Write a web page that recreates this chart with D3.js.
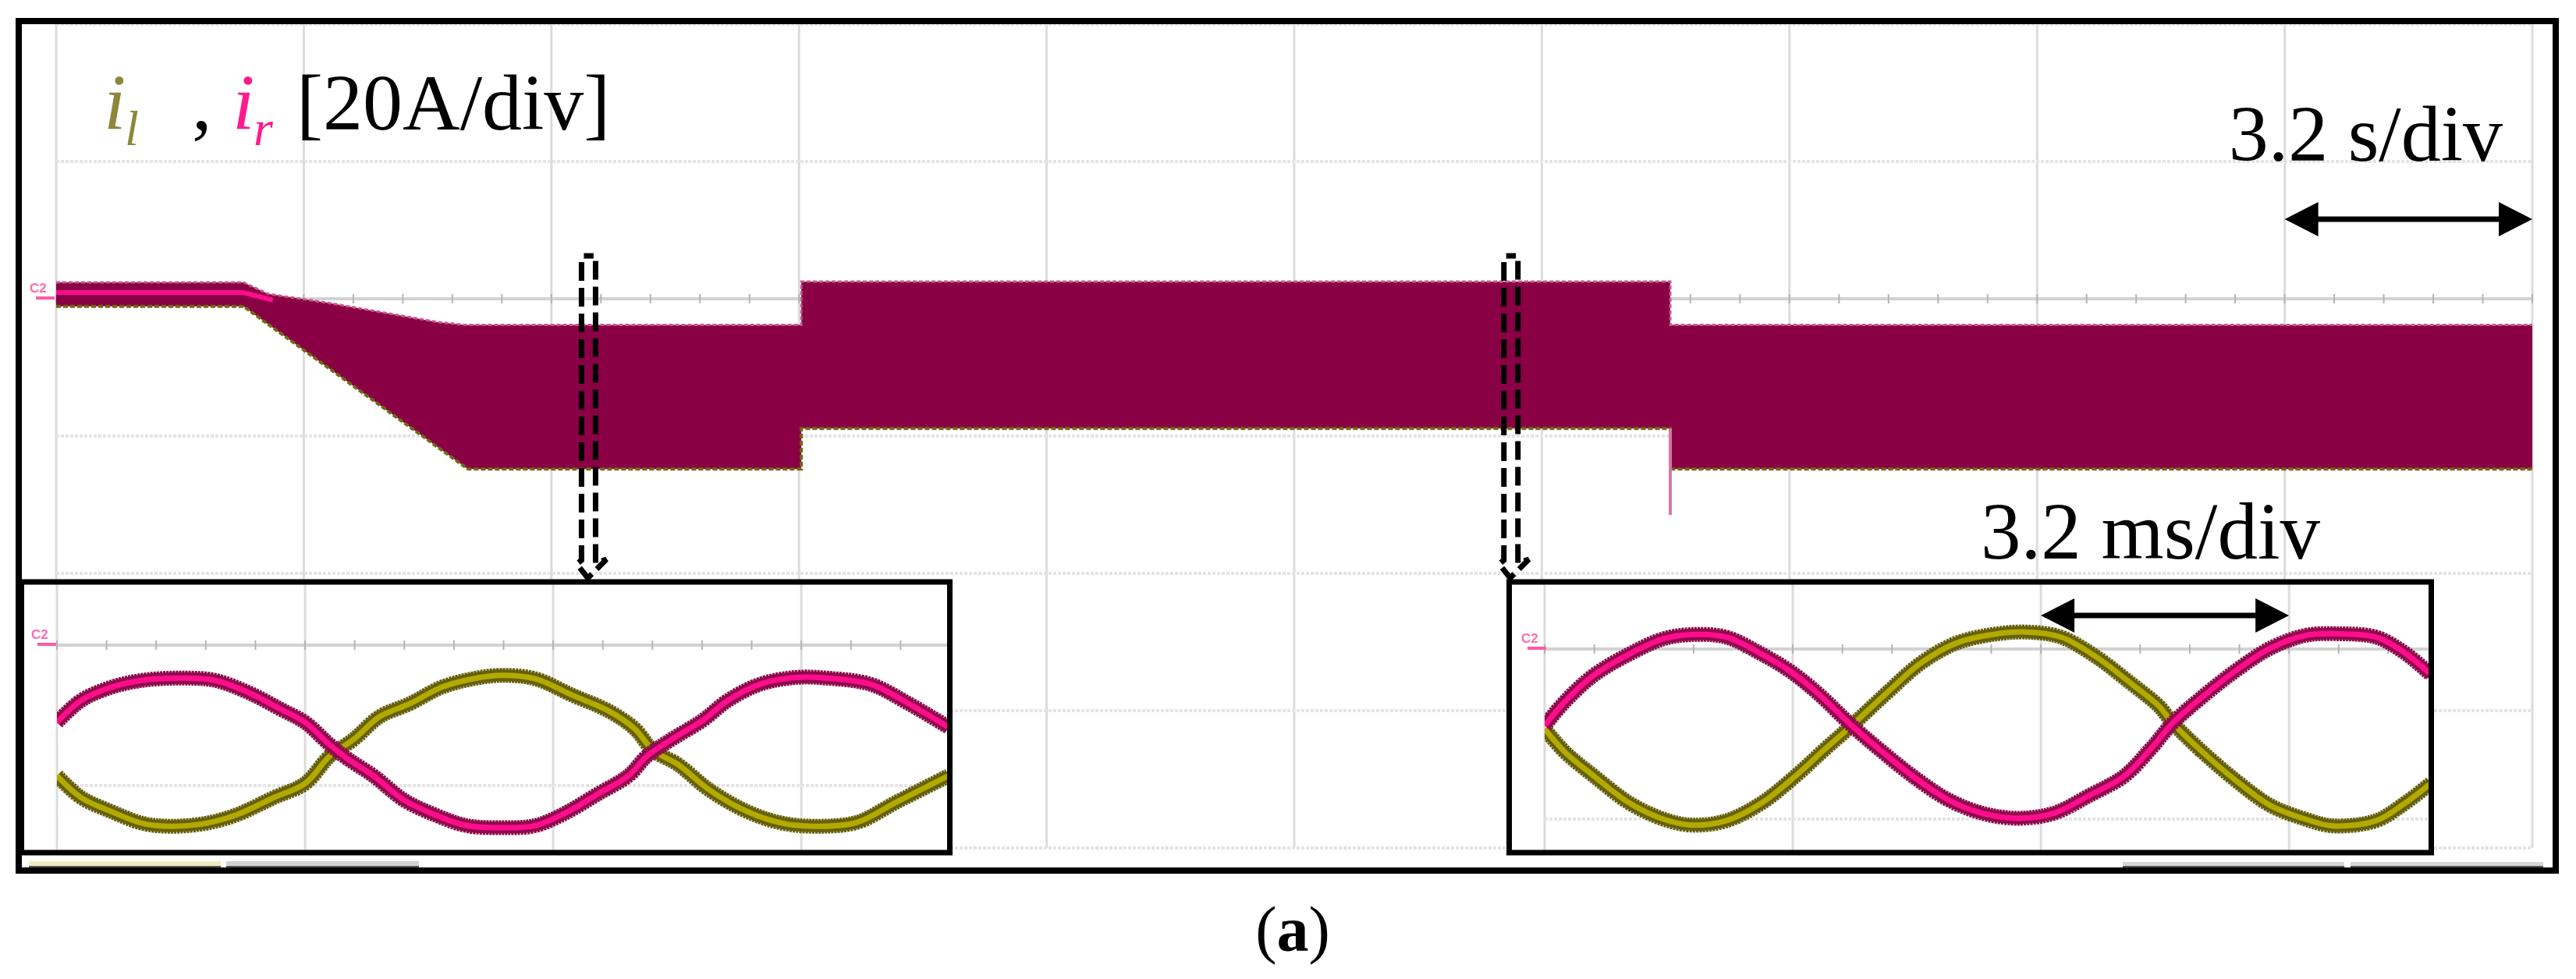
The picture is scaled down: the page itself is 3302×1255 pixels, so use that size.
<!DOCTYPE html>
<html>
<head>
<meta charset="utf-8">
<title>scope capture</title>
<style>
  body { margin: 0; background: #fff; }
  svg { display: block; }
  .lbl { font-family: "Liberation Serif", "Times New Roman", serif; fill: #000; }
</style>
<script src="https://d3js.org/d3.v7.min.js"></script>
</head>
<body>
<script>
// main record: time in s (3.2 s/div), current in A (20 A/div), C2 ground = 0 A
var envUpperT = [0, 2.42, 2.74, 3.52, 4.93, 5.28, 9.63, 9.63, 20.86, 20.86, 32];
var envUpperA = [2.4, 2.4, 0.7, -0.6, -3.4, -3.8, -3.8, 2.5, 2.5, -3.8, -3.8];
var envLowerT = [0, 2.42, 5.32, 9.63, 9.63, 20.86, 20.86, 32];
var envLowerA = [-1.1, -1.1, -24.8, -24.8, -18.9, -18.9, -24.8, -24.8];
var refT = [0, 2.42, 2.8];
var refA = [0.9, 0.9, -0.2];
var spikeT = 20.86, spikeA = [-18.9, -31.5];
var zoomT = [6.88, 18.8];          // where the two zoomed captures were taken

// zoom 1 (after the ramp): time in ms (3.2 ms/div), current in A
var z1T = [0, 0.31, 0.70, 1.11, 1.59, 2.03, 2.48, 2.88, 3.20, 3.52, 3.75, 4.08, 4.48, 4.88, 5.28,
           5.73, 6.17, 6.56, 6.96, 7.37, 7.61, 7.93, 8.33, 8.65, 9.06, 9.53, 9.93, 10.50, 10.98, 11.50];
var z1Ir = [-11.0, -7.9, -6.0, -5.0, -4.7, -5.0, -6.8, -9.1, -11.0, -14.2, -16.2, -18.6, -22.1, -24.2, -25.7,
            -26.0, -25.7, -23.9, -21.3, -18.6, -15.8, -13.4, -10.7, -7.9, -5.6, -4.6, -4.7, -5.6, -8.3, -11.7];
var z1TL = [0, 0.31, 0.70, 1.11, 1.47, 1.91, 2.31, 2.80, 3.20, 3.52, 3.83, 4.16, 4.56, 4.96, 5.36,
            5.73, 6.17, 6.64, 7.12, 7.45, 7.69, 8.01, 8.41, 8.90, 9.37, 9.85, 10.33, 10.82, 11.50];
var z1Il = [-18.6, -21.7, -23.7, -25.4, -25.8, -25.4, -24.2, -21.7, -19.7, -15.8, -13.4, -10.2, -8.3, -6.0, -4.8,
            -4.3, -4.8, -7.1, -9.4, -11.9, -15.0, -17.0, -20.6, -23.7, -25.4, -25.8, -25.2, -22.4, -18.6];

// zoom 2 (after the second step)
var z2T = [0, 0.27, 0.63, 1.09, 1.53, 1.89, 2.34, 2.80, 3.15, 3.51, 3.96, 4.33, 4.77, 5.22, 5.68,
           6.12, 6.57, 7.03, 7.48, 7.83, 8.10, 8.46, 8.92, 9.36, 9.81, 10.21, 10.72, 11.07, 11.43];
var z2Ir = [-9.0, -6.1, -3.1, -0.6, 1.2, 1.7, 1.4, -0.6, -2.5, -5.1, -9.0, -11.9, -15.1, -17.8, -19.4,
            -19.9, -19.3, -17.2, -14.9, -11.6, -8.7, -5.8, -2.5, 0.1, 1.6, 1.8, 1.4, -0.3, -3.0];
var z2TL = [0, 0.27, 0.63, 1.09, 1.53, 1.89, 2.34, 2.80, 3.24, 3.60, 3.96, 4.42, 4.86, 5.31, 5.77,
            6.21, 6.66, 7.11, 7.57, 7.92, 8.10, 8.46, 8.92, 9.36, 9.81, 10.17, 10.72, 11.07, 11.43];
var z2Il = [-9.4, -12.2, -14.9, -18.1, -20.0, -20.7, -20.2, -18.1, -14.9, -11.9, -9.0, -5.1, -1.6, 0.7, 1.7,
            2.0, 1.4, -0.9, -4.1, -6.7, -8.7, -11.9, -15.5, -18.4, -20.0, -20.8, -20.2, -18.3, -15.8];

var W = 3302, H = 1255;
var pinkDark = "#8e0a4c", pinkBright = "#ff0d8c";
var oliveDark = "#66600a", oliveBright = "#b3aa00";
var envFill = "#8a0044";
var font = '"Liberation Serif", "Times New Roman", serif';

var svg = d3.select("body").append("svg")
    .attr("width", W)
    .attr("height", H);
svg.append("rect").attr("width", W).attr("height", H).attr("fill", "#fff");

var x = d3.scaleLinear().domain([0, 32]).range([72, 3246]);
var y = d3.scaleLinear().domain([-80, 40]).range([1087, 31]);

// ---- main graticule
var grid = svg.append("g");
grid.selectAll(".vg")
    .data(d3.range(0, 32.01, 3.2))
    .enter().append("line")
    .attr("x1", d => x(d)).attr("x2", d => x(d))
    .attr("y1", y(40)).attr("y2", y(-80))
    .attr("stroke", "#dcdcdc").attr("stroke-width", 3);
grid.selectAll(".hg")
    .data(d3.range(-80, 40.01, 20))
    .enter().append("line")
    .attr("x1", x(0)).attr("x2", x(32))
    .attr("y1", d => y(d)).attr("y2", d => y(d))
    .attr("stroke", d => d === 0 ? "#d2d2d2" : "#e4e4e4")
    .attr("stroke-width", 4)
    .attr("stroke-dasharray", d => d === 0 ? null : "4,2");
grid.selectAll(".tk")
    .data(d3.range(0, 32.01, 0.64))
    .enter().append("line")
    .attr("x1", d => x(d)).attr("x2", d => x(d))
    .attr("y1", y(0) - 6).attr("y2", y(0) + 6)
    .attr("stroke", "#b4b4b4").attr("stroke-width", 2);

function c2Marker(g, x0, yBase) {
    g.append("text").attr("x", x0).attr("y", yBase - 8)
        .attr("font-family", "Liberation Sans, Arial, sans-serif")
        .attr("font-size", 17).attr("font-weight", "bold")
        .attr("fill", "#ff6fb0").text("C2");
    g.append("line").attr("x1", x0 + 8).attr("x2", x0 + 32)
        .attr("y1", yBase - 1).attr("y2", yBase - 1)
        .attr("stroke", "#ff5aa5").attr("stroke-width", 4);
}
c2Marker(svg, 38, y(0));

// ---- main trace envelope
var ptLine = d3.line().x(d => x(d[0])).y(d => y(d[1]));
var upper = envUpperT.map((t, i) => [t, envUpperA[i]]);
var lower = envLowerT.map((t, i) => [t, envLowerA[i]]);
svg.append("path")
    .attr("d", ptLine(upper.concat(lower.slice().reverse())) + "Z")
    .attr("fill", envFill);
svg.append("path").attr("d", ptLine(upper))
    .attr("fill", "none").attr("stroke", "#c8578f").attr("stroke-width", 3)
    .attr("stroke-dasharray", "5,3");
svg.append("path").attr("d", ptLine(lower))
    .attr("fill", "none").attr("stroke", "#6f6a12").attr("stroke-width", 4)
    .attr("stroke-dasharray", "6,3");
svg.append("path").attr("d", ptLine(refT.map((t, i) => [t, refA[i]])))
    .attr("fill", "none").attr("stroke", pinkBright).attr("stroke-width", 6);
svg.append("line")
    .attr("x1", x(spikeT)).attr("x2", x(spikeT))
    .attr("y1", y(spikeA[0])).attr("y2", y(spikeA[1]))
    .attr("stroke", "#d37aa6").attr("stroke-width", 4);

// ---- dashed hollow arrows pointing at the zoomed captures
zoomT.forEach(function(t) {
    var cx = x(t);
    var p = d3.path();
    p.moveTo(cx - 9, 336);
    p.lineTo(cx - 9, 718);
    p.lineTo(cx - 15, 723);
    p.lineTo(cx - 1, 741);
    p.lineTo(cx + 23, 717);
    p.lineTo(cx + 9, 722);
    p.lineTo(cx + 9, 328);
    p.lineTo(cx - 6, 328);
    svg.append("path").attr("d", p.toString())
        .attr("fill", "none").attr("stroke", "#000")
        .attr("stroke-width", 7).attr("stroke-dasharray", "24,9");
});

// ---- status bars under the graticule
svg.append("rect").attr("x", 37).attr("y", 1104).attr("width", 246).attr("height", 8).attr("fill", "#eeecbf");
svg.append("rect").attr("x", 37).attr("y", 1110).attr("width", 246).attr("height", 3).attr("fill", "#555");
svg.append("rect").attr("x", 290).attr("y", 1104).attr("width", 247).attr("height", 8).attr("fill", "#cfd3d3");
svg.append("rect").attr("x", 290).attr("y", 1110).attr("width", 247).attr("height", 3).attr("fill", "#555");
svg.append("rect").attr("x", 2721).attr("y", 1105).attr("width", 284).attr("height", 8).attr("fill", "#d6d6d6");
svg.append("rect").attr("x", 2721).attr("y", 1110).attr("width", 284).attr("height", 3).attr("fill", "#555");
svg.append("rect").attr("x", 3013).attr("y", 1105).attr("width", 247).attr("height", 8).attr("fill", "#d6d6d6");
svg.append("rect").attr("x", 3013).attr("y", 1110).attr("width", 247).attr("height", 3).attr("fill", "#555");

// ---- zoomed captures
function inset(box, tMax, aMin, gridTop, T1, I1, T2, I2, id) {
    var g = svg.append("g");
    g.append("rect").attr("x", box.x).attr("y", box.y)
        .attr("width", box.w).attr("height", box.h).attr("fill", "#fff");
    var sx = d3.scaleLinear().domain([0, tMax]).range([box.px0, box.px1]);
    var sy = d3.scaleLinear().domain([aMin, 0]).range([box.py0, box.py1]);
    g.selectAll(".v").data(d3.range(0, tMax, 3.2)).enter().append("line")
        .attr("x1", d => sx(d)).attr("x2", d => sx(d))
        .attr("y1", box.y).attr("y2", box.y + box.h)
        .attr("stroke", "#dcdcdc").attr("stroke-width", 3);
    g.selectAll(".h").data([0, -20]).enter().append("line")
        .attr("x1", sx(0)).attr("x2", box.x + box.w)
        .attr("y1", d => sy(d)).attr("y2", d => sy(d))
        .attr("stroke", d => d === 0 ? "#d2d2d2" : "#e4e4e4")
        .attr("stroke-width", 4)
        .attr("stroke-dasharray", d => d === 0 ? null : "4,2");
    g.selectAll(".t").data(d3.range(0, tMax, 0.64)).enter().append("line")
        .attr("x1", d => sx(d)).attr("x2", d => sx(d))
        .attr("y1", sy(0) - 6).attr("y2", sy(0) + 6)
        .attr("stroke", "#b4b4b4").attr("stroke-width", 2);
    c2Marker(g, box.c2x, sy(0));

    g.append("clipPath").attr("id", id).append("rect")
        .attr("x", sx(0)).attr("y", box.y)
        .attr("width", sx(tMax) - sx(0)).attr("height", box.h);
    var tr = g.append("g").attr("clip-path", "url(#" + id + ")");
    var ln = d3.line().curve(d3.curveCatmullRom).x(d => sx(d[0])).y(d => sy(d[1]));
    [[T2, I2, oliveDark, oliveBright], [T1, I1, pinkDark, pinkBright]].forEach(function(s) {
        var pts = s[0].map((t, i) => [t, s[1][i]]);
        tr.append("path").attr("d", ln(pts)).attr("fill", "none")
            .attr("stroke", s[2]).attr("stroke-width", 19).attr("stroke-dasharray", "3,1");
        tr.append("path").attr("d", ln(pts)).attr("fill", "none")
            .attr("stroke", s[2]).attr("stroke-width", 15);
        tr.append("path").attr("d", ln(pts)).attr("fill", "none")
            .attr("stroke", s[3]).attr("stroke-width", 7);
    });
    g.append("rect").attr("x", box.x).attr("y", box.y)
        .attr("width", box.w).attr("height", box.h)
        .attr("fill", "none").attr("stroke", "#000").attr("stroke-width", 7);
    return sx;
}
inset({x: 27.5, y: 746, w: 1190, h: 347, px0: 73, px1: 1216, py0: 1097, py1: 827, c2x: 40},
      11.5, -30, 827, z1T, z1Ir, z1TL, z1Il, "clip1");
var sx2 = inset({x: 1934.5, y: 746, w: 1182, h: 347, px0: 1980, px1: 3116, py0: 1050, py1: 832, c2x: 1950},
      11.43, -20, 832, z2T, z2Ir, z2TL, z2Il, "clip2");

// ---- double arrows for the time bases
function dblArrow(x1, x2, yy) {
    var g = svg.append("g");
    g.append("line").attr("x1", x1 + 30).attr("x2", x2 - 30)
        .attr("y1", yy).attr("y2", yy)
        .attr("stroke", "#000").attr("stroke-width", 7);
    g.append("path").attr("d", "M" + x1 + "," + yy + "L" + (x1 + 43) + "," + (yy - 22) + "L" + (x1 + 43) + "," + (yy + 22) + "Z");
    g.append("path").attr("d", "M" + x2 + "," + yy + "L" + (x2 - 43) + "," + (yy - 22) + "L" + (x2 - 43) + "," + (yy + 22) + "Z");
}
dblArrow(x(28.8), x(32), 281);
dblArrow(sx2(6.4), sx2(9.6), 789);

// ---- texts
svg.append("text").attr("class", "lbl").attr("x", 3208).attr("y", 206)
    .attr("text-anchor", "end").attr("font-size", 102).text("3.2 s/div");
svg.append("text").attr("class", "lbl").attr("x", 2974).attr("y", 716)
    .attr("text-anchor", "end").attr("font-size", 103).text("3.2 ms/div");

var lab = svg.append("g").attr("class", "lbl");
lab.append("text").attr("x", 133).attr("y", 166).attr("font-size", 102)
    .attr("font-style", "italic").attr("fill", "#8c873b").text("i");
lab.append("text").attr("x", 160).attr("y", 186).attr("font-size", 64)
    .attr("font-style", "italic").attr("fill", "#8c873b").text("l");
lab.append("text").attr("x", 246).attr("y", 166).attr("font-size", 102).text(",");
lab.append("text").attr("x", 298).attr("y", 166).attr("font-size", 102)
    .attr("font-style", "italic").attr("fill", "#ff1a8c").text("i");
lab.append("text").attr("x", 325).attr("y", 186).attr("font-size", 64)
    .attr("font-style", "italic").attr("fill", "#ff1a8c").text("r");
lab.append("text").attr("x", 380).attr("y", 166).attr("font-size", 102).text("[20A/div]");

var cap = svg.append("text").attr("class", "lbl").attr("x", 1657).attr("y", 1219)
    .attr("text-anchor", "middle").attr("font-size", 82);
cap.append("tspan").text("(");
cap.append("tspan").attr("font-weight", "bold").text("a");
cap.append("tspan").text(")");

// ---- outer frame
svg.append("rect").attr("x", 24).attr("y", 27).attr("width", 3252).attr("height", 1089)
    .attr("fill", "none").attr("stroke", "#000").attr("stroke-width", 8);
</script>
</body>
</html>
